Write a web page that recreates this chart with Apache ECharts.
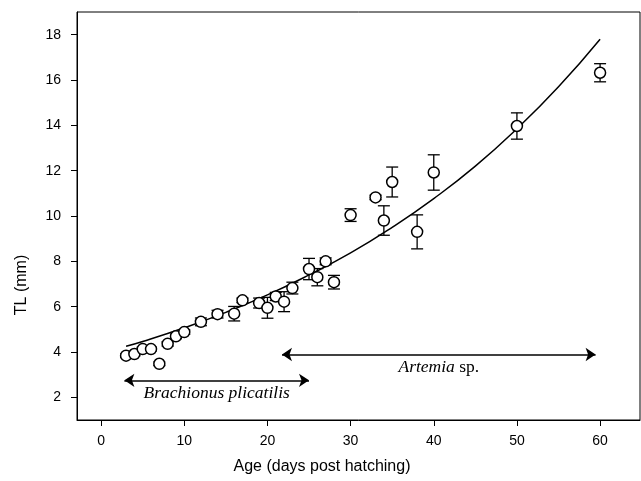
<!DOCTYPE html>
<html>
<head>
<meta charset="utf-8">
<script src="https://cdn.jsdelivr.net/npm/echarts@6/dist/echarts.min.js"></script>
<style>
html,body{margin:0;padding:0;background:#fff;}
#chart{width:641px;height:481px;}
</style>
</head>
<body>
<div id="chart"></div>
<script>
// age (days post hatching), mean TL (mm) and error
var ages = [3,4,5,6,7,8,9,10,12,14,16,17,19,20,21,22,23,25,26,27,28,30,33,34,35,38,40,50,60];
var tl   = [3.84,3.91,4.13,4.13,3.48,4.36,4.69,4.88,5.33,5.67,5.69,6.28,6.16,5.95,6.45,6.22,6.82,7.66,7.3,8.0,7.08,10.04,10.82,9.8,11.5,9.3,11.92,13.97,16.32];
var err  = [0.08,0.08,0.08,0.08,0.08,0.1,0.1,0.1,0.17,0.17,0.32,0.1,0.22,0.46,0.18,0.44,0.26,0.47,0.38,0.15,0.3,0.28,0.1,0.65,0.66,0.75,0.78,0.58,0.4];
// fitted growth curve
var fitX = [3,5,10,15,20,25,30,35,40,45,50,55,60];
var fitY = [4.25,4.46,5.07,5.75,6.52,7.4,8.37,9.5,10.77,12.2,13.85,15.7,17.8];
// feeding periods (arrows)
var brachX = [2.8,25.0], brachY = 2.75;
var artX = [21.75,59.46], artY = 3.89;
var xTicks = [0,10,20,30,40,50,60];
var yTicks = [2,4,6,8,10,12,14,16,18];

var pts=[], bars=[], fit=[];
for(var i=0;i<ages.length;i++){
	pts.push([ages[i],tl[i]]);
	bars.push([ages[i],tl[i]-err[i],tl[i]+err[i]]);
}
for(var i=0;i<fitX.length;i++) fit.push([fitX[i],fitY[i]]);

var mychart = echarts.init(document.getElementById('chart'));
var lbl = {fontFamily:'Liberation Sans, Arial, sans-serif',fontSize:14,color:'#000'};
var serif = 'Liberation Serif, Times New Roman, serif';
var axl = {show:true,onZero:false,lineStyle:{color:'#000',width:1}};

var option = {
	backgroundColor:'#fff',
	animation:false,
	grid:{left:77,right:1,top:12,bottom:61,show:true,borderColor:'#000',borderWidth:1},
	xAxis:{
		type:'value',min:-2.9,max:64.8,
		axisLine:axl,
		splitLine:{show:false},
		axisTick:{show:true,inside:false,length:6,customValues:xTicks,lineStyle:{color:'#000'}},
		axisLabel:Object.assign({margin:14,customValues:xTicks},lbl)
	},
	yAxis:{
		type:'value',min:1,max:19,
		axisLine:axl,
		splitLine:{show:false},
		axisTick:{show:true,inside:false,length:6,customValues:yTicks,lineStyle:{color:'#000'}},
		axisLabel:Object.assign({margin:16,customValues:yTicks},lbl)
	},
	graphic:[
		{type:'text',style:{text:'Age (days post hatching)',font:'16px Liberation Sans, Arial, sans-serif',fill:'#000',textAlign:'center',textVerticalAlign:'middle'},position:[322,467]},
		{type:'text',style:{text:'TL (mm)',font:'16px Liberation Sans, Arial, sans-serif',fill:'#000',textAlign:'center',textVerticalAlign:'middle'},position:[22,285],rotation:Math.PI/2}
	],
	series:[
		{
			type:'line',data:fit,smooth:true,showSymbol:false,z:2,
			lineStyle:{color:'#000',width:1.5}
		},
		{
			type:'custom',data:bars,z:3,
			renderItem:function(params,api){
				var x=api.value(0);
				var lo=api.coord([x,api.value(1)]);
				var hi=api.coord([x,api.value(2)]);
				var w=6;
				var st={stroke:'#000',lineWidth:1.3};
				return {type:'group',children:[
					{type:'line',shape:{x1:lo[0],y1:lo[1],x2:hi[0],y2:hi[1]},style:st},
					{type:'line',shape:{x1:lo[0]-w,y1:lo[1],x2:lo[0]+w,y2:lo[1]},style:st},
					{type:'line',shape:{x1:hi[0]-w,y1:hi[1],x2:hi[0]+w,y2:hi[1]},style:st}
				]};
			}
		},
		{
			type:'scatter',data:pts,z:4,symbol:'circle',symbolSize:11,
			itemStyle:{color:'#fff',borderColor:'#000',borderWidth:1.5,opacity:1}
		},
		{
			type:'line',data:[],z:5,
			markLine:{
				silent:true,symbol:['arrow','arrow'],symbolSize:10,
				lineStyle:{color:'#000',width:1.5,type:'solid'},
				label:{show:true,position:'insideMiddleBottom',distance:4,color:'#000',fontFamily:serif,fontSize:17.5,
					formatter:function(p){return p.name;},
					rich:{i:{fontFamily:serif,fontSize:17.5,fontStyle:'italic',color:'#000'},n:{fontFamily:serif,fontSize:17.5,color:'#000'}}},
				data:[
					[{name:'{i|Brachionus plicatilis}',coord:[brachX[0],brachY]},{coord:[brachX[1],brachY]}],
					[{name:'{i|Artemia}{n| sp.}',coord:[artX[0],artY]},{coord:[artX[1],artY]}]
				]
			}
		}
	]
};
mychart.setOption(option);
</script>
</body>
</html>
